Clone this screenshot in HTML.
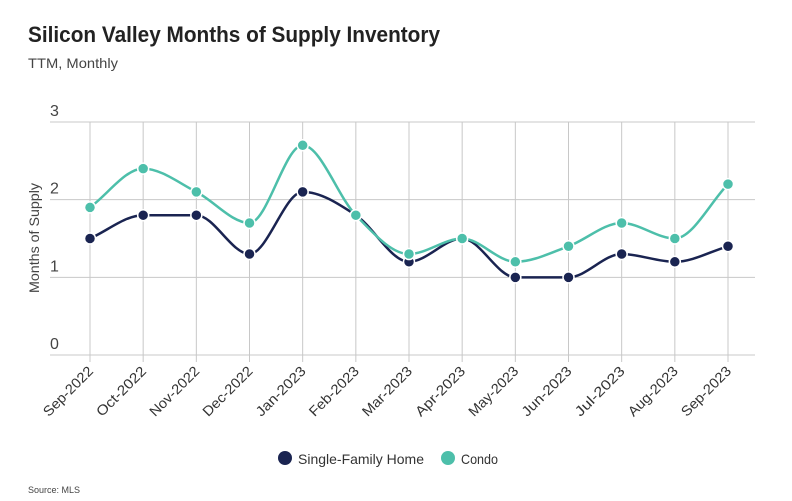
<!DOCTYPE html>
<html><head><meta charset="utf-8"><style>
body{margin:0;background:#fff;font-family:"Liberation Sans",sans-serif;}
svg{display:block}
</style></head><body>
<svg id="c" width="792" height="501">
<text x="28" y="42" font-size="22" font-weight="bold" fill="#222" textLength="412" lengthAdjust="spacingAndGlyphs">Silicon Valley Months of Supply Inventory</text>
<text x="28" y="68" font-size="14" fill="#444" textLength="90" lengthAdjust="spacingAndGlyphs">TTM, Monthly</text>
<text transform="translate(39,238) rotate(-90)" text-anchor="middle" font-size="14" fill="#444" textLength="110" lengthAdjust="spacingAndGlyphs">Months of Supply</text>
<g id="grid"></g><g id="series"></g><g id="xlabels"></g>
<g>
<circle cx="285" cy="458" r="7" fill="#1a2451"/>
<text x="298" y="464" font-size="14" fill="#333" textLength="126" lengthAdjust="spacingAndGlyphs">Single-Family Home</text>
<circle cx="448" cy="458" r="7" fill="#4dbfaa"/>
<text x="461" y="464" font-size="14" fill="#333" textLength="37" lengthAdjust="spacingAndGlyphs">Condo</text>
</g>
<text x="28" y="493" font-size="9" fill="#444">Source:  MLS</text>
</svg>
<script>
const categories=["Sep-2022","Oct-2022","Nov-2022","Dec-2022","Jan-2023","Feb-2023","Mar-2023","Apr-2023","May-2023","Jun-2023","Jul-2023","Aug-2023","Sep-2023"];
const sfhValues=[1.5,1.8,1.8,1.3,2.1,1.8,1.2,1.5,1.0,1.0,1.3,1.2,1.4];
const condoValues=[1.9,2.4,2.1,1.7,2.7,1.8,1.3,1.5,1.2,1.4,1.7,1.5,2.2];
const yTicks=[0,1,2,3];
const NS="http://www.w3.org/2000/svg";
const x0=90,x1=728,y0=355,yTop=122;
const xs=i=>x0+i*(x1-x0)/(categories.length-1);
const ys=v=>y0-(v/3)*(y0-yTop);
function mk(t,a,p){const e=document.createElementNS(NS,t);for(const k in a)e.setAttribute(k,a[k]);p.appendChild(e);return e;}
const grid=document.getElementById('grid');
yTicks.forEach(t=>{
 const l=mk('line',{x1:50,x2:755,y1:ys(t),y2:ys(t),stroke:'#c8c8c8','stroke-width':1},grid);
 
 
 const tx=mk('text',{x:50,y:ys(t)-6,'font-size':16,fill:'#444'},grid);tx.textContent=t;
 
 
});
const xl=document.getElementById('xlabels');
categories.forEach((c,i)=>{
 const l=mk('line',{x1:xs(i),x2:xs(i),y1:yTop,y2:362,stroke:'#c8c8c8','stroke-width':1},grid);
 
 
 const t=mk('text',{transform:`translate(${xs(i)+4},${372}) rotate(-45)`,'text-anchor':'end','font-size':14,fill:'#333',textLength:64,lengthAdjust:'spacingAndGlyphs'},xl);
 t.textContent=c;
 
 
});
function monotone(pts){
 const n=pts.length,d=[],m=[];
 for(let i=0;i<n-1;i++)d.push((pts[i+1][1]-pts[i][1])/(pts[i+1][0]-pts[i][0]));
 m[0]=d[0];m[n-1]=d[n-2];
 for(let i=1;i<n-1;i++){m[i]=(d[i-1]*d[i]<=0)?0:(d[i-1]+d[i])/2;}
 for(let i=0;i<n-1;i++){if(d[i]===0){m[i]=0;m[i+1]=0;continue;}
  const a=m[i]/d[i],b=m[i+1]/d[i],s=a*a+b*b;if(s>9){const t=3/Math.sqrt(s);m[i]=t*a*d[i];m[i+1]=t*b*d[i];}}
 let p=`M${pts[0][0]},${pts[0][1]}`;
 for(let i=0;i<n-1;i++){const h=(pts[i+1][0]-pts[i][0])/3;
  p+=`C${pts[i][0]+h},${pts[i][1]+m[i]*h} ${pts[i+1][0]-h},${pts[i+1][1]-m[i+1]*h} ${pts[i+1][0]},${pts[i+1][1]}`;}
 return p;
}
const sg=document.getElementById('series');
[[sfhValues,'#1a2451','sfh'],[condoValues,'#4dbfaa','condo']].forEach(([vals,col,name])=>{
 const pts=vals.map((v,i)=>[xs(i),ys(v)]);
 const path=mk('path',{d:monotone(pts),fill:'none',stroke:col,'stroke-width':2.5},sg);
 
 
 pts.forEach((p,i)=>{
  const c=mk('circle',{cx:p[0],cy:p[1],r:5.5,fill:col,stroke:'#fff','stroke-width':1.5},sg);
  
  
 });
});
</script>
</body></html>
